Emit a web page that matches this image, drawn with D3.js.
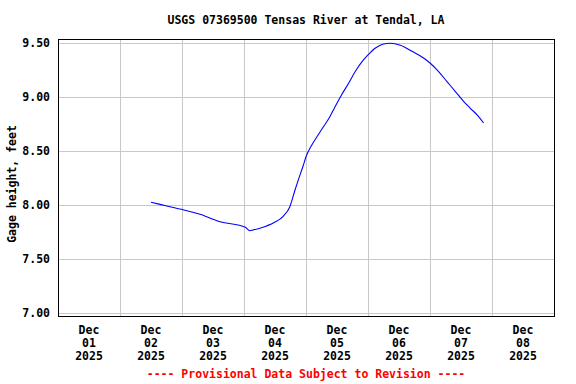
<!DOCTYPE html>
<html>
<head>
<meta charset="utf-8">
<script src="https://cdn.jsdelivr.net/npm/d3@7"></script>
<style>
  body { margin: 0; background: #fff; }
  svg text { font-family: "DejaVu Sans Mono", "Liberation Mono", monospace; font-weight: bold; font-size: 11.5px; }
</style>
</head>
<body>
<svg id="canvas" width="576" height="384"></svg>
<script>
// gage height readings (local time, feet)
var times = [
  '2025-12-02T12:00', '2025-12-02T15:30', '2025-12-02T23:45', '2025-12-03T07:00', '2025-12-03T14:45',
  '2025-12-04T00:30', '2025-12-04T02:15', '2025-12-04T03:30', '2025-12-04T06:45', '2025-12-04T11:30',
  '2025-12-04T15:15', '2025-12-04T17:45', '2025-12-04T19:45', '2025-12-04T21:00', '2025-12-04T23:00',
  '2025-12-05T00:00', '2025-12-05T02:15', '2025-12-05T04:15', '2025-12-05T06:45', '2025-12-05T09:15',
  '2025-12-05T11:15', '2025-12-05T13:45', '2025-12-05T16:30', '2025-12-05T19:00', '2025-12-05T22:15',
  '2025-12-06T00:00', '2025-12-06T02:45', '2025-12-06T06:00', '2025-12-06T08:30', '2025-12-06T12:30',
  '2025-12-06T17:00', '2025-12-06T21:30', '2025-12-07T00:00', '2025-12-07T03:15', '2025-12-07T06:30',
  '2025-12-07T09:45', '2025-12-07T13:00', '2025-12-07T15:30', '2025-12-07T18:45', '2025-12-07T20:45'
];
var heights = [
  8.025, 8.006, 7.960, 7.914, 7.845,
  7.794, 7.762, 7.769, 7.790, 7.836,
  7.898, 7.984, 8.139, 8.231, 8.370,
  8.447, 8.556, 8.632, 8.725, 8.818,
  8.910, 9.019, 9.127, 9.234, 9.343,
  9.389, 9.451, 9.491, 9.497, 9.479,
  9.423, 9.361, 9.315, 9.238, 9.145,
  9.053, 8.960, 8.898, 8.821, 8.759
];
var yTicks = [7.0, 7.5, 8.0, 8.5, 9.0, 9.5];
var dayLabels = ['01', '02', '03', '04', '05', '06', '07', '08'];
var titleText = 'USGS 07369500 Tensas River at Tendal, LA';
var yLabel = 'Gage height, feet';
var footText = '---- Provisional Data Subject to Revision ----';

var parse = d3.timeParse('%Y-%m-%dT%H:%M');
var data = times.map(function(t, i){ return { t: parse(t), v: heights[i] }; });

var svg = d3.select('#canvas');
var plotL = 58, plotR = 554, plotT = 39, plotB = 316;

var x = d3.scaleTime().domain([new Date(2025, 11, 1), new Date(2025, 11, 9)]).range([plotL, plotR]);
var y = d3.scaleLinear().domain([7, 9.5]).range([313, 43]);

// grid
var dayBounds = d3.timeDay.range(new Date(2025, 11, 2), new Date(2025, 11, 9));
svg.append('g').selectAll('line').data(dayBounds).enter().append('line')
  .attr('x1', function(d){ return Math.round(x(d)) + 0.5; })
  .attr('x2', function(d){ return Math.round(x(d)) + 0.5; })
  .attr('y1', plotT).attr('y2', plotB)
  .style('stroke', '#c8c8c8').style('stroke-width', 1);
svg.append('g').selectAll('line').data(yTicks).enter().append('line')
  .attr('x1', plotL).attr('x2', plotR)
  .attr('y1', function(d){ return Math.round(y(d)) + 0.5; })
  .attr('y2', function(d){ return Math.round(y(d)) + 0.5; })
  .style('stroke', '#c8c8c8').style('stroke-width', 1);

// data line
var line = d3.line().x(function(d){ return x(d.t); }).y(function(d){ return y(d.v); }).curve(d3.curveMonotoneX);
svg.append('path').datum(data).attr('d', line)
  .style('fill', 'none').style('stroke', '#0000ff').style('stroke-width', 1.1);

// frame
svg.append('rect').attr('x', plotL + 0.5).attr('y', plotT + 0.5)
  .attr('width', plotR - plotL).attr('height', plotB - plotT)
  .style('fill', 'none').style('stroke', '#000').style('stroke-width', 1);

// y tick labels
svg.append('g').selectAll('text').data(yTicks).enter().append('text')
  .attr('x', 50).attr('y', function(d){ return y(d) + 4; })
  .attr('text-anchor', 'end')
  .text(function(d){ return d3.format('.2f')(d); });

// x tick labels at noon of each day
var noons = dayLabels.map(function(d, i){ return new Date(2025, 11, i + 1, 12); });
var xl = svg.append('g').selectAll('text').data(noons).enter().append('text')
  .attr('text-anchor', 'middle')
  .attr('transform', function(d){ return 'translate(' + x(d) + ',0)'; });
xl.append('tspan').attr('x', 0).attr('y', 334).text('Dec');
xl.append('tspan').attr('x', 0).attr('y', 347).text(function(d, i){ return dayLabels[i]; });
xl.append('tspan').attr('x', 0).attr('y', 360).text('2025');

// title, axis label, footer
svg.append('text').attr('x', 306).attr('y', 24).attr('text-anchor', 'middle').text(titleText);
svg.append('text').attr('transform', 'translate(16,184) rotate(-90)').attr('text-anchor', 'middle').text(yLabel);
svg.append('text').attr('x', 306).attr('y', 378).attr('text-anchor', 'middle')
  .style('fill', '#ff0000').text(footText);
</script>
</body>
</html>
